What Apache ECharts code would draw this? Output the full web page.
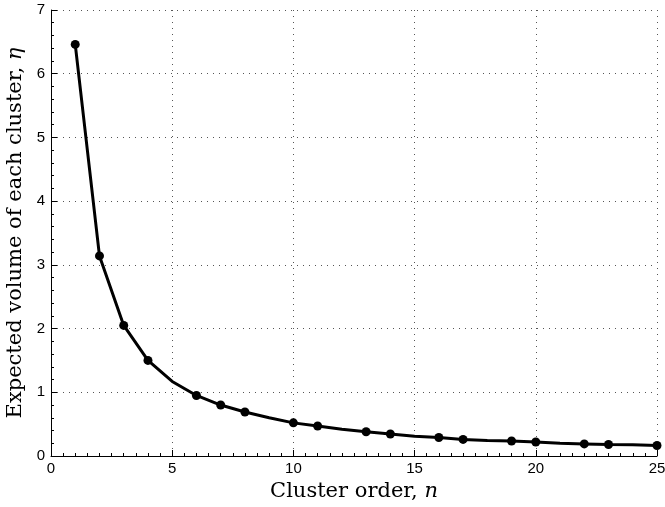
<!DOCTYPE html>
<html>
<head>
<meta charset="utf-8">
<script src="https://cdn.jsdelivr.net/npm/echarts@6/dist/echarts.min.js"></script>
<style>
  html, body { margin: 0; padding: 0; background: #fff; }
  #chart { width: 665px; height: 507px; }
</style>
</head>
<body>
<div id="chart"></div>
<script>
// cluster order n and expected volume eta
var clusterOrder = [1, 2, 3, 4, 5, 6, 7, 8, 9, 10, 11, 12, 13, 14, 15, 16, 17, 18, 19, 20, 21, 22, 23, 24, 25];
var expectedVolume = [6.46, 3.14, 2.05, 1.50, 1.17, 0.95, 0.80, 0.69, 0.60, 0.52, 0.47, 0.42, 0.38, 0.345, 0.31,
    0.29, 0.26, 0.245, 0.235, 0.22, 0.20, 0.19, 0.18, 0.175, 0.165];
// orders that carry a marker in the original figure
var markedOrders = [1, 2, 3, 4, 6, 7, 8, 10, 11, 13, 14, 16, 17, 19, 20, 22, 23, 25];
var xTicks = [0, 5, 10, 15, 20, 25];
var yTicks = [0, 1, 2, 3, 4, 5, 6, 7];

var points = clusterOrder.map(function (n, i) {
    var p = { value: [n, expectedVolume[i]] };
    if (markedOrders.indexOf(n) < 0) {
        p.symbol = 'none';
    }
    return p;
});

var tickFont = {
    color: '#000',
    fontFamily: 'Liberation Sans, Arial, sans-serif',
    fontSize: 15
};
var titleFont = 'DejaVu Serif, serif';
var titleRich = {
    t: { fontFamily: titleFont, fontSize: 21, color: '#000' },
    i: { fontFamily: titleFont, fontSize: 21, fontStyle: 'italic', color: '#000' }
};

var chart = echarts.init(document.getElementById('chart'));
chart.setOption({
    animation: false,
    backgroundColor: '#fff',
    grid: { left: 51, right: 8, top: 10, bottom: 51, containLabel: false, outerBoundsMode: 'none' },
    xAxis: {
        type: 'value',
        min: 0,
        max: 25,
        interval: 5,
        name: '{t|Cluster order, }{i|n}',
        nameLocation: 'middle',
        nameGap: 25,
        nameTextStyle: { rich: titleRich },
        axisLine: { show: true, onZero: false, lineStyle: { color: '#000', width: 1 } },
        axisTick: { show: true, inside: true, length: 6, lineStyle: { color: '#000' } },
        minorTick: { show: true, splitNumber: 10, length: 3, lineStyle: { color: '#000' } },
        axisLabel: Object.assign({ margin: 5, formatter: function (v) { return xTicks.indexOf(v) >= 0 ? String(v) : ''; } }, tickFont),
        splitLine: { show: true, lineStyle: { color: '#555', type: [1, 5], width: 1 } }
    },
    yAxis: {
        type: 'value',
        min: 0,
        max: 7,
        interval: 1,
        name: '{t|Expected volume of each cluster, }{i|η}',
        nameLocation: 'middle',
        nameGap: 22,
        nameTextStyle: { rich: titleRich },
        axisLine: { show: true, lineStyle: { color: '#000', width: 1 } },
        axisTick: { show: true, inside: true, length: 6, lineStyle: { color: '#000' } },
        minorTick: { show: true, splitNumber: 5, length: 3, lineStyle: { color: '#000' } },
        axisLabel: Object.assign({ margin: 6, formatter: function (v) { return yTicks.indexOf(v) >= 0 ? String(v) : ''; } }, tickFont),
        splitLine: { show: true, lineStyle: { color: '#555', type: [1, 5], width: 1 } }
    },
    series: [{
        type: 'line',
        data: points,
        symbol: 'circle',
        symbolSize: 9,
        showAllSymbol: true,
        lineStyle: { color: '#000', width: 3 },
        itemStyle: { color: '#000' },
        z: 5
    }]
});
</script>
</body>
</html>
